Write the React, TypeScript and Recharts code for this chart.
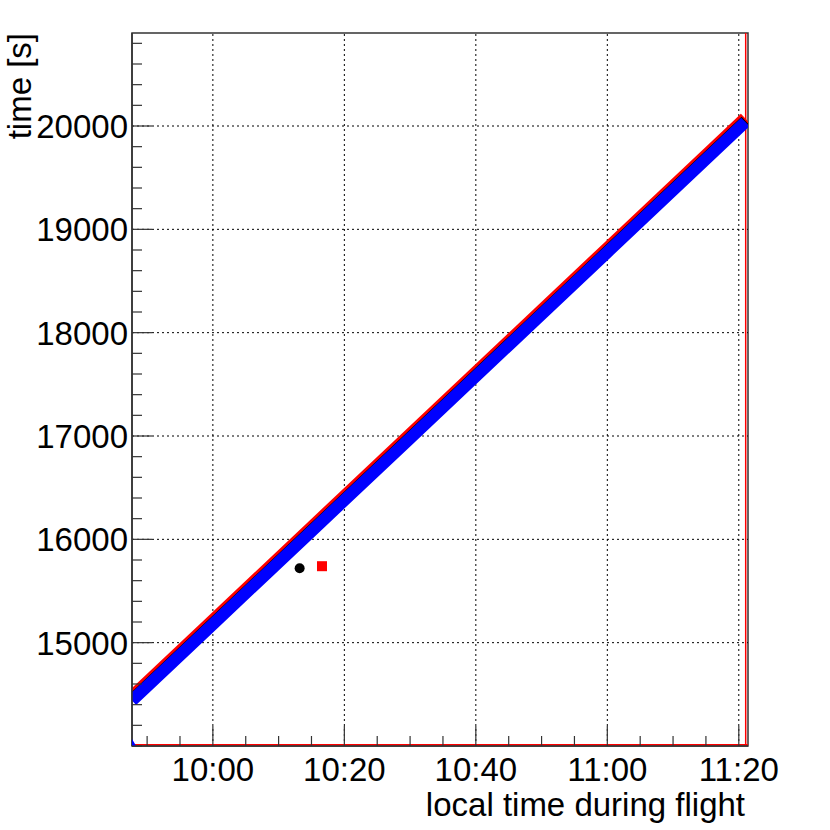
import React from 'react';
import {
  ComposedChart,
  Line,
  Scatter,
  XAxis,
  YAxis,
  ReferenceLine,
  ReferenceArea,
} from 'recharts';

// x = minutes since midnight (local time), y = time [s]
const times = [587.7, 600, 615, 630, 645, 660, 681.0];
const blueVals = [14440, 15178, 16078, 16978, 17878, 18778, 20038];
const redVals = [14475, 15213, 16113, 17013, 17913, 18813, 20073];
const blackVals = [14452, 15190, 16090, 16990, 17890, 18790, 20050];

const blackOutlier = [{ t: 613.2, v: 15720 }];
const redOutlier = [{ t: 616.6, v: 15740 }];
const blueStart = [{ t: 587.7, v: 14000 }];

const xDomain = [587.7, 681.4];
const yDomain = [14000, 20900];

const xTicks = [590, 595, 600, 605, 610, 615, 620, 625, 630, 635, 640, 645, 650, 655, 660, 665, 670, 675, 680];
const xMajor = [600, 620, 640, 660, 680];
const yTicks = [
  14000, 14200, 14400, 14600, 14800, 15000, 15200, 15400, 15600, 15800,
  16000, 16200, 16400, 16600, 16800, 17000, 17200, 17400, 17600, 17800,
  18000, 18200, 18400, 18600, 18800, 19000, 19200, 19400, 19600, 19800,
  20000, 20200, 20400, 20600, 20800,
];
const yMajor = [15000, 16000, 17000, 18000, 19000, 20000];

const data = times.map((t, i) => ({
  t,
  blue: blueVals[i],
  red: redVals[i],
  black: blackVals[i],
}));

const FONT = '"Liberation Sans", Arial, Helvetica, sans-serif';
const AXIS = '#333';

const fmtTime = (m: number) => {
  const h = Math.floor(m / 60);
  const mm = Math.round(m - h * 60);
  return `${h}:${mm < 10 ? '0' : ''}${mm}`;
};

const XTick = (props: any) => {
  const { x, y, payload } = props;
  const major = xMajor.includes(payload.value);
  return (
    <g>
      <line x1={x} x2={x} y1={y} y2={y - (major ? 20 : 10)} stroke={AXIS} strokeWidth={1.2} />
      {major && (
        <text x={x} y={y + 35} textAnchor="middle" fontSize={33} fontFamily={FONT} fill="#000">
          {fmtTime(payload.value)}
        </text>
      )}
    </g>
  );
};

const YTick = (props: any) => {
  const { x, y, payload } = props;
  const major = yMajor.includes(payload.value);
  return (
    <g>
      <line x1={x} x2={x + (major ? 20 : 10)} y1={y} y2={y} stroke={AXIS} strokeWidth={1.2} />
      {major && (
        <text x={x - 4} y={y + 12} textAnchor="end" fontSize={33} fontFamily={FONT} fill="#000">
          {payload.value}
        </text>
      )}
    </g>
  );
};

const circleShape = (p: any) => <circle cx={p.cx} cy={p.cy} r={5} fill="#000" />;
const squareShape = (p: any) => <rect x={p.cx - 5} y={p.cy - 5} width={10} height={10} fill="#ff0000" />;
const triangleShape = (p: any) => (
  <polygon points={`${p.cx - 6},${p.cy + 3} ${p.cx + 6},${p.cy + 3} ${p.cx},${p.cy - 7}`} fill="#0000ff" />
);

export default function App() {
  return (
    <div style={{ position: 'absolute', left: 0, top: 0, width: 830, height: 830, background: '#fff' }}>
      <ComposedChart
        width={830}
        height={830}
        data={data}
        margin={{ top: 33, right: 82, bottom: 0, left: 0 }}
      >
        <XAxis
          dataKey="t"
          type="number"
          domain={xDomain}
          allowDataOverflow
          ticks={xTicks}
          interval={0}
          tick={<XTick />}
          tickLine={false}
          tickSize={0}
          tickMargin={0}
          height={84}
          axisLine={{ stroke: AXIS, strokeWidth: 1.5 }}
          label={{
            content: (lp: any) => {
              const vb = lp.viewBox;
              return (
                <text x={vb.x + vb.width - 3} y={vb.y + 70} textAnchor="end" fontSize={33} fontFamily={FONT} fill="#000">
                  local time during flight
                </text>
              );
            },
          }}
        />
        <YAxis
          type="number"
          domain={yDomain}
          allowDataOverflow
          ticks={yTicks}
          interval={0}
          tick={<YTick />}
          tickLine={false}
          tickSize={0}
          tickMargin={0}
          width={132}
          axisLine={{ stroke: AXIS, strokeWidth: 1.5 }}
          label={{
            content: (lp: any) => {
              const vb = lp.viewBox;
              return (
                <text
                  x={0}
                  y={0}
                  transform={`translate(${vb.x + 31}, ${vb.y}) rotate(-90)`}
                  textAnchor="end"
                  fontSize={33}
                  fontFamily={FONT}
                  fill="#000"
                >
                  time [s]
                </text>
              );
            },
          }}
        />
        {xMajor.map((v) => (
          <ReferenceLine key={`gx${v}`} x={v} stroke="#000" strokeDasharray="2 3" strokeWidth={1} />
        ))}
        {yMajor.map((v) => (
          <ReferenceLine key={`gy${v}`} y={v} stroke="#000" strokeDasharray="2 3" strokeWidth={1} />
        ))}
        <ReferenceLine y={14012} stroke="#ff0000" strokeWidth={1.5} />
        <ReferenceLine x={681.05} stroke="#ff0000" strokeWidth={1.5} />
        <Line dataKey="red" stroke="#ff0000" strokeWidth={13} dot={false} isAnimationActive={false} />
        <Line dataKey="black" stroke="#000" strokeWidth={11} dot={false} isAnimationActive={false} />
        <Line dataKey="blue" stroke="#0000ff" strokeWidth={12} dot={false} isAnimationActive={false} />
        <Scatter data={blackOutlier} dataKey="v" shape={circleShape} isAnimationActive={false} />
        <Scatter data={redOutlier} dataKey="v" shape={squareShape} isAnimationActive={false} />
        <Scatter data={blueStart} dataKey="v" shape={triangleShape} isAnimationActive={false} />
        <ReferenceArea
          x1={xDomain[0]}
          x2={xDomain[1]}
          y1={yDomain[0]}
          y2={yDomain[1]}
          fill="none"
          stroke={AXIS}
          strokeWidth={1.5}
        />
      </ComposedChart>
    </div>
  );
}
